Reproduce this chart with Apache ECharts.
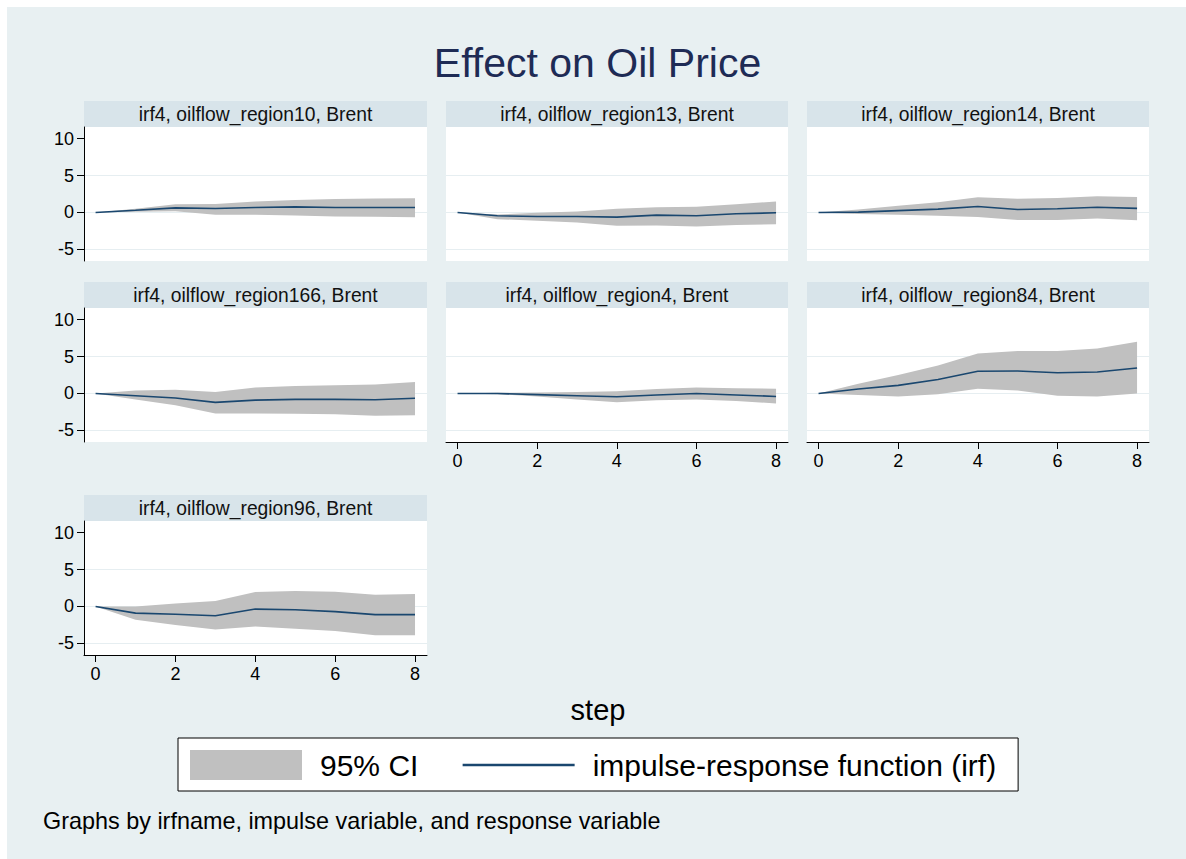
<!DOCTYPE html>
<html>
<head>
<meta charset="utf-8">
<script src="https://cdn.jsdelivr.net/npm/echarts@6/dist/echarts.min.js"></script>
<style>
  html, body { margin: 0; padding: 0; background: #ffffff; }
  #chart { width: 1186px; height: 859px; }
</style>
</head>
<body>
<div id="chart"></div>
<script>
// Forecast horizon (steps) and tick labels
const steps = [0, 1, 2, 3, 4, 5, 6, 7, 8];
const xTicks = [0, 2, 4, 6, 8];
const yTicks = [-5, 0, 5, 10];

// Panel titles: irfname, impulse variable, response variable
const panelNames = [
  'irf4, oilflow_region10, Brent',
  'irf4, oilflow_region13, Brent',
  'irf4, oilflow_region14, Brent',
  'irf4, oilflow_region166, Brent',
  'irf4, oilflow_region4, Brent',
  'irf4, oilflow_region84, Brent',
  'irf4, oilflow_region96, Brent'
];

// Impulse responses with 95% confidence bounds, one set per impulse region
const irfRegion10  = [0, 0.3, 0.63, 0.54, 0.67, 0.76, 0.67, 0.67, 0.67];
const loRegion10   = [0, 0.1, 0.18, -0.3, -0.3, -0.4, -0.54, -0.58, -0.63];
const hiRegion10   = [0, 0.5, 1.12, 1.15, 1.48, 1.7, 1.84, 1.88, 1.93];

const irfRegion13  = [0, -0.45, -0.54, -0.54, -0.63, -0.36, -0.45, -0.18, -0.04];
const loRegion13   = [0, -0.9, -1.12, -1.35, -1.8, -1.75, -1.88, -1.7, -1.6];
const hiRegion13   = [0, -0.27, -0.04, 0.13, 0.5, 0.72, 0.76, 1.12, 1.48];

const irfRegion14  = [0, 0.05, 0.25, 0.45, 0.8, 0.4, 0.5, 0.7, 0.55];
const loRegion14   = [0, -0.2, -0.3, -0.45, -0.6, -1.0, -1.0, -0.8, -1.05];
const hiRegion14   = [0, 0.4, 0.9, 1.4, 2.05, 1.85, 1.95, 2.2, 2.1];

const irfRegion166 = [0, -0.3, -0.6, -1.2, -0.9, -0.8, -0.8, -0.85, -0.65];
const loRegion166  = [0, -0.8, -1.6, -2.7, -2.7, -2.75, -2.8, -3.0, -2.95];
const hiRegion166  = [0, 0.4, 0.5, 0.2, 0.8, 1.0, 1.1, 1.2, 1.55];

const irfRegion4   = [0, 0, -0.15, -0.3, -0.45, -0.2, 0.0, -0.2, -0.4];
const loRegion4    = [0, -0.1, -0.4, -0.8, -1.2, -0.9, -0.8, -1.0, -1.35];
const hiRegion4    = [0, 0.1, 0.15, 0.2, 0.3, 0.6, 0.8, 0.7, 0.65];

const irfRegion84  = [0, 0.6, 1.1, 1.9, 3.0, 3.05, 2.8, 2.9, 3.45];
const loRegion84   = [0, -0.2, -0.4, -0.1, 0.65, 0.4, -0.3, -0.4, 0.0];
const hiRegion84   = [0, 1.3, 2.5, 3.8, 5.4, 5.75, 5.75, 6.1, 7.0];

const irfRegion96  = [0, -0.9, -1.05, -1.25, -0.35, -0.45, -0.7, -1.1, -1.1];
const loRegion96   = [0, -1.8, -2.5, -3.1, -2.7, -3.0, -3.3, -3.9, -3.9];
const hiRegion96   = [0, 0.0, 0.4, 0.75, 1.95, 2.1, 2.0, 1.6, 1.7];

const irfSets = [irfRegion10, irfRegion13, irfRegion14, irfRegion166, irfRegion4, irfRegion84, irfRegion96];
const loSets  = [loRegion10, loRegion13, loRegion14, loRegion166, loRegion4, loRegion84, loRegion96];
const hiSets  = [hiRegion10, hiRegion13, hiRegion14, hiRegion166, hiRegion4, hiRegion84, hiRegion96];

// ---- layout and styling ----
const FONT = '"Liberation Sans", Arial, Helvetica, sans-serif';
const BG = '#e8f0f2';
const STRIP = '#d8e4ea';
const GRID_LINE = '#e6eef1';
const BAND = '#c0c0c0';
const NAVY = '#1a476f';
const CI_NAME = '95% CI';
const IRF_NAME = 'impulse-response function (irf)';

const colLeft = [84, 446, 807];
const colWidth = [343, 342, 342];
const rowTop = [127, 308, 521];
const plotHeight = 134;
const stripHeight = 26;

// cell (col,row) of each panel, and which axes it draws
const cells = [[0,0],[1,0],[2,0],[0,1],[1,1],[2,1],[0,2]];
const showY = [true, false, false, true, false, false, true];
const showX = [false, false, false, false, true, true, true];

const grids = [], xAxes = [], yAxes = [], series = [], graphics = [];

graphics.push({
  type: 'rect', left: 7, top: 7, silent: true, z: -10,
  shape: { width: 1179, height: 852 },
  style: { fill: BG }
});

// confidence band drawn as one polygon: upper bound forward, lower bound back
function bandRenderer(lo, hi) {
  return function (params, api) {
    if (params.dataIndex !== 0) return null;
    const pts = [];
    for (let k = 0; k < steps.length; k++) pts.push(api.coord([steps[k], hi[k]]));
    for (let k = steps.length - 1; k >= 0; k--) pts.push(api.coord([steps[k], lo[k]]));
    return { type: 'polygon', shape: { points: pts }, style: { fill: BAND } };
  };
}

cells.forEach(([c, r], i) => {
  grids.push({
    left: colLeft[c], top: rowTop[r], width: colWidth[c], height: plotHeight,
    show: true, backgroundColor: '#ffffff', borderWidth: 0
  });

  xAxes.push({
    type: 'value', gridIndex: i, min: -0.29, max: 8.3,
    axisLine: { show: showX[i], onZero: false, lineStyle: { color: '#000', width: 1 } },
    axisTick: { show: showX[i], length: 7, customValues: xTicks, lineStyle: { color: '#000', width: 1 } },
    axisLabel: { show: showX[i], customValues: xTicks, margin: 10, fontSize: 18, color: '#000', fontFamily: FONT },
    splitLine: { show: false }
  });

  yAxes.push({
    type: 'value', gridIndex: i, min: -6.56, max: 11.56,
    axisLine: { show: showY[i], onZero: false, lineStyle: { color: '#000', width: 1 } },
    axisTick: { show: showY[i], length: 7, customValues: yTicks, lineStyle: { color: '#000', width: 1 } },
    axisLabel: { show: showY[i], customValues: yTicks, margin: 10, fontSize: 18, color: '#000', fontFamily: FONT },
    splitLine: { show: true, lineStyle: { color: [GRID_LINE, GRID_LINE, GRID_LINE, 'rgba(0,0,0,0)'], width: 1 } }
  });

  const lo = loSets[i], hi = hiSets[i], irf = irfSets[i];

  series.push({
    type: 'custom', name: CI_NAME, coordinateSystem: 'cartesian2d',
    xAxisIndex: i, yAxisIndex: i, silent: true,
    itemStyle: { color: BAND },
    encode: { x: 0, y: [1, 2] },
    renderItem: bandRenderer(lo, hi),
    data: steps.map((s, k) => [s, lo[k], hi[k]]), z: 1
  });
  series.push({
    type: 'line', name: IRF_NAME, xAxisIndex: i, yAxisIndex: i,
    symbol: 'none', silent: true,
    lineStyle: { color: NAVY, width: 1.6 }, itemStyle: { color: NAVY },
    data: steps.map((s, k) => [s, irf[k]]), z: 3
  });

  // panel strip with its title
  graphics.push({
    type: 'group', left: colLeft[c], top: rowTop[r] - stripHeight,
    children: [
      { type: 'rect', shape: { x: 0, y: 0, width: colWidth[c], height: stripHeight }, style: { fill: STRIP } },
      { type: 'text', x: colWidth[c] / 2, y: stripHeight / 2 + 0.5,
        style: { text: panelNames[i], fill: '#111', font: '19.3px ' + FONT, align: 'center', verticalAlign: 'middle' } }
    ]
  });
});

graphics.push({
  type: 'text', x: 597.5, y: 62.5,
  style: { text: 'Effect on Oil Price', fill: '#1e2b55', font: '41px ' + FONT, align: 'center', verticalAlign: 'middle' }
});
graphics.push({
  type: 'text', x: 598, y: 710,
  style: { text: 'step', fill: '#000', font: '29px ' + FONT, align: 'center', verticalAlign: 'middle' }
});
graphics.push({
  type: 'text', x: 43, y: 821,
  style: { text: 'Graphs by irfname, impulse variable, and response variable', fill: '#000', font: '23.4px ' + FONT, align: 'left', verticalAlign: 'middle' }
});

const chart = echarts.init(document.getElementById('chart'), null, { renderer: 'svg' });
chart.setOption({
  animation: false,
  backgroundColor: '#ffffff',
  textStyle: { fontFamily: FONT },
  grid: grids,
  xAxis: xAxes,
  yAxis: yAxes,
  series: series,
  legend: {
    left: 178, top: 738,
    orient: 'horizontal',
    selectedMode: false,
    backgroundColor: '#ffffff',
    borderColor: '#000000', borderWidth: 1, borderRadius: 0,
    padding: [12, 22, 11, 12],
    itemWidth: 112, itemHeight: 30, itemGap: 43,
    textStyle: { fontSize: 30, color: '#000', fontFamily: FONT, padding: [0, 0, 0, 13] },
    data: [
      { name: CI_NAME, icon: 'rect', itemStyle: { color: BAND, borderWidth: 0 } },
      { name: IRF_NAME, itemStyle: { color: 'rgba(0,0,0,0)', borderWidth: 0 }, lineStyle: { color: NAVY, width: 2.5 } }
    ]
  },
  graphic: graphics
});
</script>
</body>
</html>
